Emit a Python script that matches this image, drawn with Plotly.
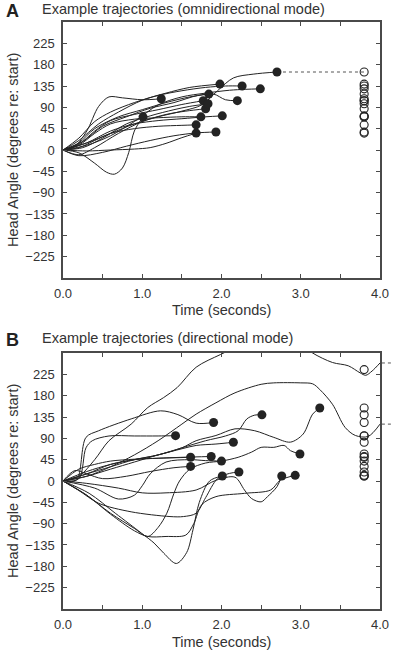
import plotly.graph_objects as go

# ---------------- data ----------------
# Panel A: omnidirectional mode, trajectories ending at filled dots
A_times = [
    [0, 0.2, 0.4, 0.55, 0.65, 0.75, 0.83, 0.9, 1.01],
    [0, 0.15, 0.3, 0.45, 0.58, 0.75, 1.0, 1.24],
    [0, 0.2, 0.4, 0.6, 0.9, 1.2, 1.5, 1.68],
    [0, 0.3, 0.6, 0.9, 1.1, 1.3, 1.5, 1.68],
    [0, 0.2, 0.4, 0.6, 0.9, 1.2, 1.5, 1.74],
    [0, 0.2, 0.4, 0.6, 0.9, 1.2, 1.5, 1.77],
    [0, 0.2, 0.4, 0.7, 1.0, 1.3, 1.55, 1.8],
    [0, 0.25, 0.5, 0.8, 1.1, 1.4, 1.6, 1.83],
    [0, 0.2, 0.4, 0.7, 1.0, 1.3, 1.6, 1.84],
    [0, 0.2, 0.5, 0.8, 1.1, 1.4, 1.68, 1.93],
    [0, 0.2, 0.45, 0.7, 1.0, 1.3, 1.6, 1.98],
    [0, 0.3, 0.6, 0.9, 1.2, 1.5, 1.8, 2.01],
    [0, 0.25, 0.5, 0.8, 1.1, 1.4, 1.7, 1.9, 2.05, 2.2],
    [0, 0.2, 0.4, 0.6, 0.9, 1.2, 1.5, 1.8, 2.05, 2.26],
    [0, 0.3, 0.6, 0.9, 1.2, 1.5, 1.8, 2.1, 2.3, 2.49],
    [0, 0.3, 0.6, 0.9, 1.2, 1.5, 1.75, 1.95, 2.15, 2.4, 2.7],
]
A_angles = [
    [0, -6, -28, -47, -51, -38, -5, 40, 70],
    [0, 8, 40, 92, 112, 110, 106, 108],
    [0, 5, 20, 35, 45, 50, 52, 53],
    [0, -2, 0, 2, 5, 14, 26, 35.6],
    [0, 10, 35, 55, 65, 68, 70, 70],
    [0, 12, 40, 62, 75, 85, 96, 104],
    [0, -10, 5, 35, 60, 75, 82, 87],
    [0, 5, 25, 55, 72, 85, 92, 97.5],
    [0, 15, 45, 70, 85, 100, 112, 118],
    [0, -12, -5, 8, 20, 30, 36, 38],
    [0, 20, 55, 80, 105, 120, 132, 139],
    [0, 15, 40, 55, 62, 66, 70, 72],
    [0, 18, 50, 70, 88, 100, 115, 118, 106, 104],
    [0, 25, 60, 80, 100, 115, 125, 132, 135, 135],
    [0, 10, 30, 60, 95, 112, 120, 126, 128, 129],
    [0, 15, 35, 55, 70, 82, 95, 125, 152, 160, 164.5],
]

# Panel B: directional mode, trajectories ending at filled dots
B_times = [
    [0, 0.2, 0.29, 0.37, 0.58, 0.9, 1.2, 1.42],
    [0, 0.2, 0.4, 0.6, 0.9, 1.2, 1.4, 1.61],
    [0, 0.15, 0.3, 0.5, 0.8, 1.1, 1.4, 1.61],
    [0, 0.3, 0.6, 0.9, 1.2, 1.5, 1.87],
    [0, 0.17, 0.29, 0.45, 0.86, 1.23, 1.45, 1.68, 1.9],
    [0, 0.4, 0.7, 0.9, 1.0, 1.1, 1.3, 1.6, 1.8, 2.0],
    [0, 0.33, 0.66, 0.99, 1.15, 1.27, 1.43, 1.56, 1.64, 1.72, 1.85, 2.01],
    [0, 0.3, 0.6, 0.9, 1.2, 1.5, 1.68, 1.93, 2.15],
    [0, 0.2, 0.45, 0.86, 1.35, 1.52, 1.68, 1.8, 1.95, 2.1, 2.22],
    [0, 0.3, 0.6, 0.9, 1.2, 1.5, 1.8, 2.05, 2.21, 2.32, 2.42, 2.51],
    [0, 0.3, 0.7, 1.0, 1.3, 1.68, 1.93, 2.17, 2.29, 2.38, 2.5, 2.58, 2.7, 2.76],
    [0, 0.3, 0.6, 0.9, 1.07, 1.3, 1.55, 1.65, 1.75, 1.93, 2.29, 2.62, 2.74, 2.93],
    [0, 0.3, 0.6, 0.9, 1.07, 1.2, 1.31, 1.4, 1.47, 1.6, 1.8, 2.0, 2.21, 2.38, 2.5,
     2.66, 2.79, 2.87, 2.99],
    [0, 0.3, 0.6, 0.9, 1.2, 1.5, 1.68, 1.93, 2.17, 2.42, 2.66, 2.87, 3.03, 3.15, 3.24],
]
B_angles = [
    [0, 5, 70, 85, 95, 95, 95, 95.6],
    [0, 25, 35, 42, 46, 48, 49, 50],
    [0, 22, 15, 5, 10, 20, 28, 30.8],
    [0, 15, 35, 45, 48, 50, 51.7],
    [0, 2, 92, 106, 131, 148, 140, 122, 123.5],
    [0, -15, -38, -30, -10, 15, 40, 45, 43, 42],
    [0, -26, -68, -110, -131, -152, -174, -151, -103, -45, 0, 10.5],
    [0, 10, 25, 40, 55, 68, 75, 78, 81.7],
    [0, -20, -47, -65, -75, -75, -68, -35, 5, 16, 19],
    [0, 20, 35, 45, 55, 70, 85, 95, 106, 131, 139, 139.6],
    [0, -5, -15, -25, -25, -19, 1.5, 8, -19, -37, -44, -33, -12, 10.5],
    [0, -30, -70, -105, -117, -117, -114, -90, -50, -33, -26, -19, 1.5, 12],
    [0, -30, -68, -100, -117, -98, -68, -26, 0, 25, 38, 42, 50, 61, 71, 71, 75, 64, 57],
    [0, 15, 30, 45, 55, 70, 85, 96, 110, 106, 92, 82, 99, 141, 154],
]
# Panel B: two trajectories that run on past the end of the axis
B_long_times = [
    [0, 0.2, 0.4, 0.58, 0.86, 1.07, 1.27, 1.44, 1.68, 1.99, 2.3, 2.7, 3.0, 3.15,
     3.4, 3.6, 3.75, 3.82, 3.9, 4.0],
    [0, 0.3, 0.6, 0.9, 1.2, 1.5, 1.68, 1.93, 2.17, 2.5, 2.66, 3.0, 3.15, 3.24, 3.4,
     3.56, 3.69, 3.85, 4.0],
]
B_long_angles = [
    [0, 10, 45, 85, 120, 155, 176, 197, 240, 267, 290, 300, 290, 270,
     250, 243, 228, 223, 232, 249],
    [0, 10, 30, 55, 85, 120, 141, 165, 186, 204, 207, 207, 205, 193, 162,
     113, 96, 94, 120],
]
B_long_circle = [235, 95]          # open-circle values of the two long runs
A_carry = [2.7, 3.8, 164.5]        # dotted carry line in panel A (t0, t1, angle)
B_offaxis = [249, 120]             # dotted continuations right of panel B

CIRCLE_T = 3.8
X_TICKS = [0, 0.5, 1, 1.5, 2, 2.5, 3, 3.5, 4]
X_TEXT = ["0.0", "", "1.0", "", "2.0", "", "3.0", "", "4.0"]
Y_TICKS = [-225, -180, -135, -90, -45, 0, 45, 90, 135, 180, 225]

# ---------------- figure ----------------
FONT = "Liberation Sans, Arial, Helvetica, sans-serif"
INK = "#232323"
TXT = "#333333"
AX = "#4a4a4a"

fig = go.Figure()


def add_lines(times, angles, xa, ya):
    for t, a in zip(times, angles):
        fig.add_trace(go.Scatter(
            x=t, y=a, mode="lines", xaxis=xa, yaxis=ya,
            line=dict(color=INK, width=1, shape="spline", smoothing=0.9),
            hoverinfo="skip", showlegend=False))


def add_dots(times, angles, xa, ya):
    fig.add_trace(go.Scatter(
        x=[t[-1] for t in times], y=[a[-1] for a in angles],
        mode="markers", xaxis=xa, yaxis=ya, cliponaxis=False,
        marker=dict(size=9, color=INK, line=dict(width=0)),
        hoverinfo="skip", showlegend=False))


def add_circles(values, xa, ya):
    fig.add_trace(go.Scatter(
        x=[CIRCLE_T] * len(values), y=values, mode="markers",
        xaxis=xa, yaxis=ya,
        marker=dict(size=8, symbol="circle-open", color=INK,
                    line=dict(width=1.1, color=INK)),
        hoverinfo="skip", showlegend=False))


# Panel A
add_lines(A_times, A_angles, "x", "y")
fig.add_trace(go.Scatter(
    x=[A_carry[0], A_carry[1]], y=[A_carry[2], A_carry[2]], mode="lines",
    xaxis="x", yaxis="y", line=dict(color="#555", width=1, dash="dot"),
    hoverinfo="skip", showlegend=False))
add_dots(A_times, A_angles, "x", "y")
add_circles([a[-1] for a in A_angles], "x", "y")

# Panel B
add_lines(B_times, B_angles, "x2", "y2")
add_lines(B_long_times, B_long_angles, "x2", "y2")
add_dots(B_times, B_angles, "x2", "y2")
add_circles([a[-1] for a in B_angles] + B_long_circle, "x2", "y2")

for v in B_offaxis:
    fig.add_shape(type="line", xref="paper", yref="y2", x0=1.006, x1=1.04,
                  y0=v, y1=v, line=dict(color="#555", width=1, dash="dot"))

axis_common = dict(
    showline=True, linecolor=AX, linewidth=1.5, mirror="allticks",
    ticks="inside", ticklen=4, tickwidth=1, tickcolor=AX,
    showgrid=False, zeroline=False,
    tickfont=dict(family=FONT, size=13, color=TXT),
)
xaxis_common = dict(axis_common, range=[0, 4], tickmode="array",
                    tickvals=X_TICKS, ticktext=X_TEXT, ticklabelstandoff=3)
yaxis_common = dict(axis_common, range=[-270, 270], tickmode="array",
                    tickvals=Y_TICKS, ticklabelstandoff=4)

TOP_DOM = [0.5639, 1.0]
BOT_DOM = [0.0, 0.4361]

fig.update_layout(
    width=400, height=652,
    margin=dict(l=63, r=11, t=22, b=43),
    paper_bgcolor="white", plot_bgcolor="white",
    font=dict(family=FONT, color=TXT),
    xaxis=dict(xaxis_common, domain=[0, 1], anchor="y"),
    yaxis=dict(yaxis_common, domain=TOP_DOM, anchor="x"),
    xaxis2=dict(xaxis_common, domain=[0, 1], anchor="y2"),
    yaxis2=dict(yaxis_common, domain=BOT_DOM, anchor="x2"),
    showlegend=False,
)


def ann(text, x, y, size, xanchor="left", angle=0, bold=False):
    fig.add_annotation(
        text=f"<b>{text}</b>" if bold else text,
        xref="paper", yref="paper", x=x, y=y, xanchor=xanchor, yanchor="middle",
        showarrow=False, textangle=angle,
        font=dict(family=FONT, size=size, color=TXT if not bold else "#222"))


ann("A", -0.185, 1.0185, 18, bold=True)
ann("Example trajectories (omnidirectional mode)", -0.072, 1.022, 14.5)
ann("B", -0.185, 0.458, 18, bold=True)
ann("Example trajectories (directional mode)", -0.072, 0.461, 14.5)
ann("Time (seconds)", 0.5, 0.5094, 14.5, xanchor="center")
ann("Time (seconds)", 0.5, -0.0562, 14.5, xanchor="center")
ann("Head Angle (degrees re: start)", -0.158, 0.7819, 14.5, xanchor="center", angle=-90)
ann("Head Angle (degrees re: start)", -0.158, 0.218, 14.5, xanchor="center", angle=-90)

fig.write_html("out.html")
